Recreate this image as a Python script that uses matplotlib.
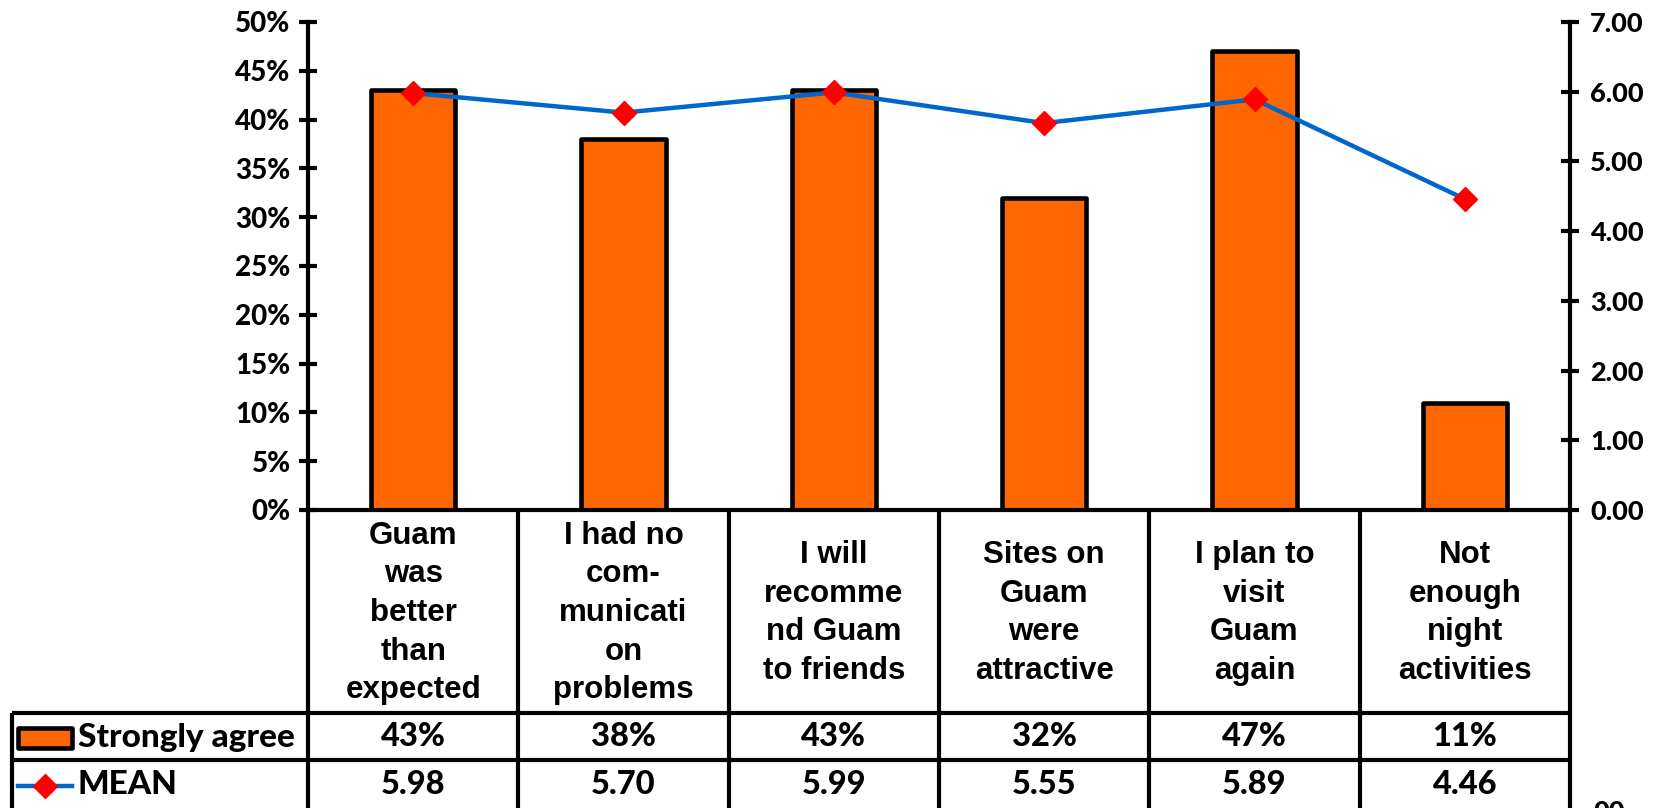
import numpy as np
import matplotlib
matplotlib.use("Agg")
import matplotlib.pyplot as plt
from matplotlib.patches import Rectangle
from matplotlib.lines import Line2D

# datos
categorias = ["Guam\nwas\nbetter\nthan\nexpected",
              "I had no\ncom-\nmunicati\non\nproblems",
              "I will\nrecomme\nnd Guam\nto friends",
              "Sites on\nGuam\nwere\nattractive",
              "I plan to\nvisit\nGuam\nagain",
              "Not\nenough\nnight\nactivities"]
muy_de_acuerdo = [0.43, 0.38, 0.43, 0.32, 0.47, 0.11]   # Strongly agree
media = [5.98, 5.70, 5.99, 5.55, 5.89, 4.46]           # MEAN
ticks_izq = np.arange(0, 0.51, 0.05)
ticks_der = np.arange(0, 7.01, 1.0)

naranja = "#FF6600"
azul = "#0066CC"
rojo = "#FF0000"

plt.rcParams['font.family'] = ['Lato', 'DejaVu Sans']
plt.rcParams['font.weight'] = 'black'

W, H = 1661, 808
fig = plt.figure(figsize=(W / 100, H / 100), dpi=100)
ax = fig.add_axes([308 / W, 1 - 510 / H, 1262 / W, 488 / H])

x = np.arange(len(categorias))
ax.bar(x, muy_de_acuerdo, width=0.4, color=naranja, edgecolor="black",
       linewidth=3.3, joinstyle="round", zorder=2)
ax.set_xlim(-0.5, len(categorias) - 0.5)
ax.set_ylim(0, 0.5)
ax.set_yticks(ticks_izq)
ax.set_yticklabels(["%d%%" % round(t * 100) for t in ticks_izq])
ax.set_xticks([])
ax.tick_params(axis="y", direction="inout", length=13, width=3, pad=6,
               labelsize=20)
for s in ["top", "right"]:
    ax.spines[s].set_visible(False)
for s in ["left", "bottom"]:
    ax.spines[s].set_linewidth(3)

ax2 = ax.twinx()
ax2.plot(x, media, color=azul, lw=3.2, marker="D", ms=12, mfc=rojo,
         mec=rojo, zorder=3)
ax2.set_ylim(0, 7)
ax2.set_yticks(ticks_der)
ax2.set_yticklabels(["%.2f" % t for t in ticks_der])
ax2.tick_params(axis="y", direction="inout", length=13, width=3, pad=8,
                labelsize=19.5)
for s in ["top", "left", "bottom"]:
    ax2.spines[s].set_visible(False)
ax2.spines["right"].set_linewidth(3)

# ---------------- tabla de datos debajo del grafico ----------------
def ay(px):
    # fila en pixeles -> fraccion del eje
    return (510 - px) / 488

tx = ax.get_xaxis_transform()
kw_linea = dict(color="black", lw=3, clip_on=False, solid_capstyle="butt")

# divisiones verticales entre categorias
for i in range(len(categorias) + 1):
    ax.add_line(Line2D([i - 0.5, i - 0.5], [0, ay(812)], transform=tx, **kw_linea))

# filas de la leyenda
x_izq = (12 - 308) / 1262
for py in [713, 760]:
    ax.add_line(Line2D([x_izq, 1.0], [ay(py), ay(py)], transform=ax.transAxes, **kw_linea))
ax.add_line(Line2D([x_izq, x_izq], [ay(713), ay(812)], transform=ax.transAxes, **kw_linea))

# textos de categorias
for i, c in enumerate(categorias):
    ax.text(i, ay(613), c, transform=tx, ha="center", va="center",
            fontsize=22.5, family="Liberation Sans", weight="bold",
            linespacing=1.38)

# valores
for i in range(len(categorias)):
    ax.text(i, ay(737), "%d%%" % round(muy_de_acuerdo[i] * 100), transform=tx,
            ha="center", va="center", fontsize=23.5)
    ax.text(i, ay(785), "%.2f" % media[i], transform=tx,
            ha="center", va="center", fontsize=23.5)

# simbolos de la leyenda
x0 = (18 - 308) / 1262
x1 = (72 - 308) / 1262
xm = (45 - 308) / 1262
ax.add_patch(Rectangle((x0, ay(748)), x1 - x0, ay(728) - ay(748),
                       transform=ax.transAxes, facecolor=naranja,
                       edgecolor="black", lw=3.3, joinstyle="round", clip_on=False))
ax.add_line(Line2D([x0, x1], [ay(786), ay(786)], transform=ax.transAxes,
                   color=azul, lw=3.2, clip_on=False))
ax.add_line(Line2D([xm], [ay(786)], transform=ax.transAxes, marker="D", ms=12,
                   mfc=rojo, mec=rojo, clip_on=False))
xt = (78 - 308) / 1262
ax.text(xt, ay(737), "Strongly agree", transform=ax.transAxes, ha="left",
        va="center", fontsize=24)
ax.text(xt, ay(785), "MEAN", transform=ax.transAxes, ha="left",
        va="center", fontsize=24)

# etiqueta cortada abajo a la derecha
fig.text(1593 / W, 1 - 800 / H, "00", ha="left", va="top", fontsize=19.5)

fig.savefig("out.png", dpi=100)
